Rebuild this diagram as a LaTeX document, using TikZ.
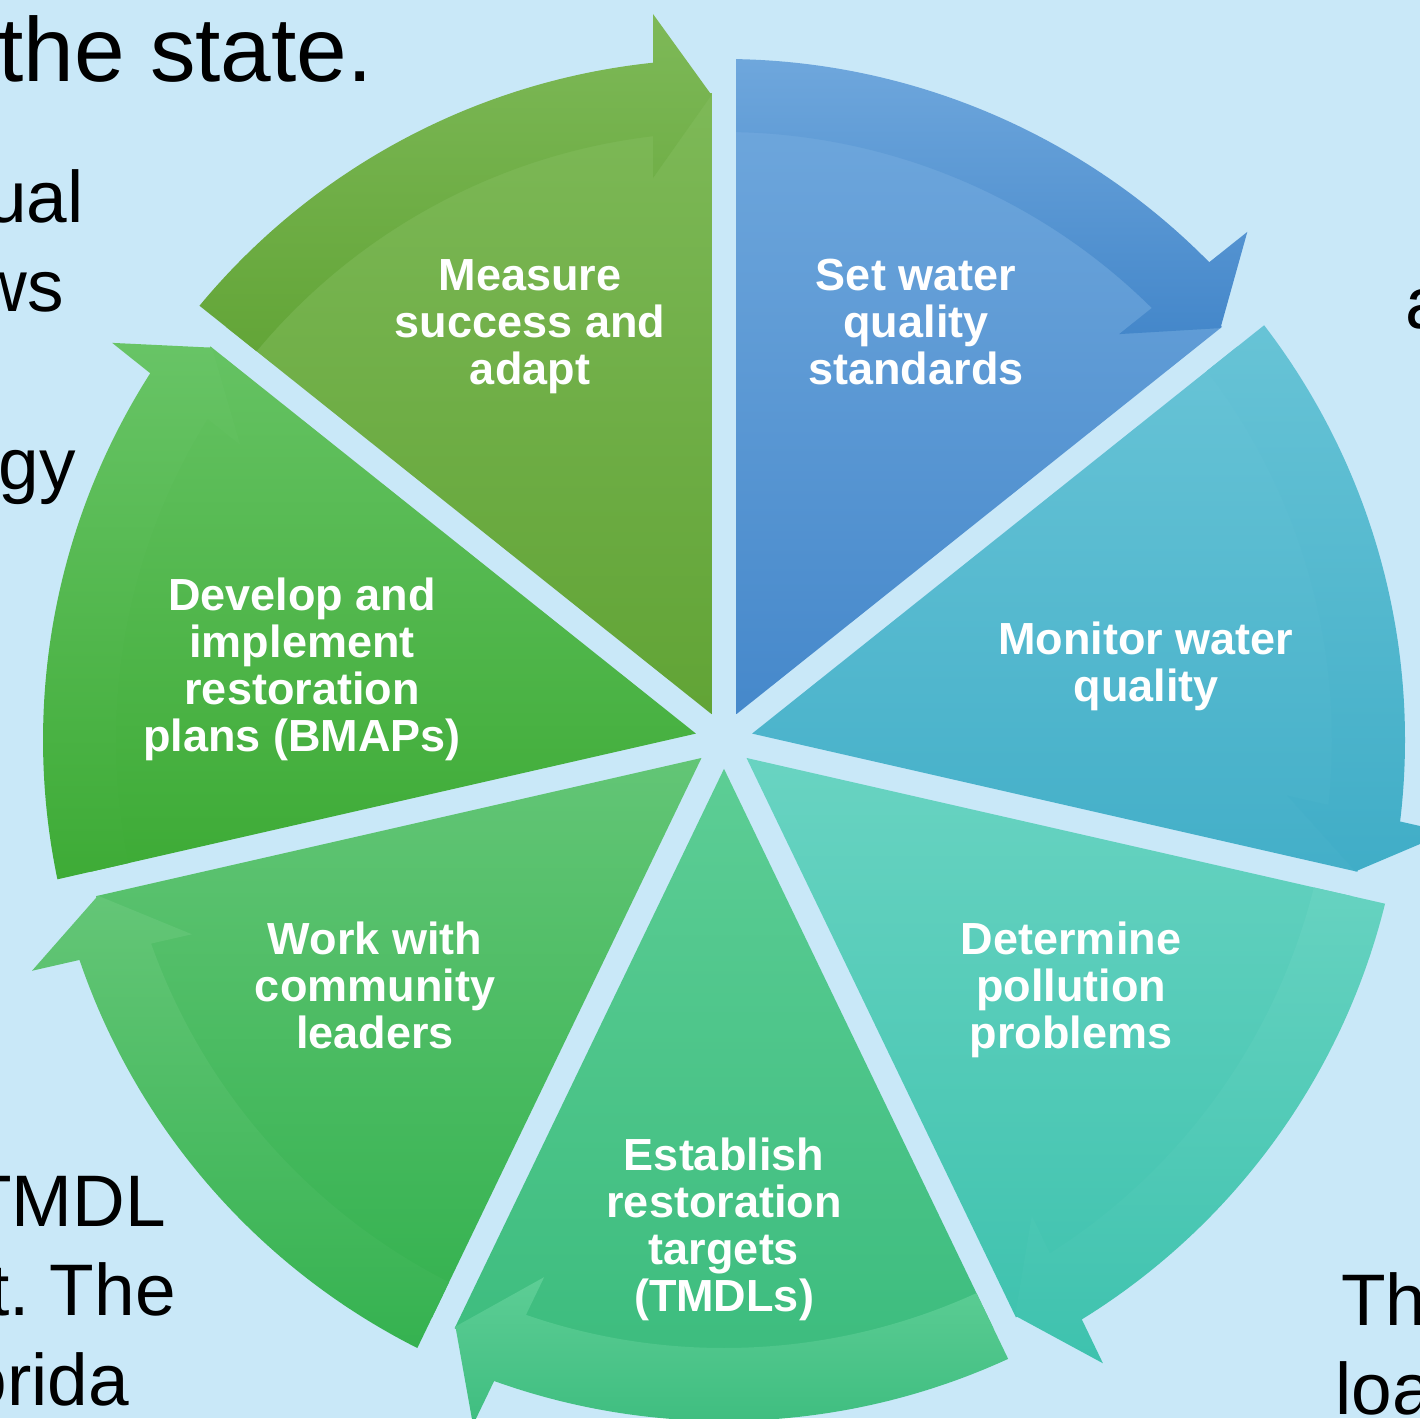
\documentclass[tikz,border=0pt]{standalone}
\usepackage{fontspec}
\setmainfont{Liberation Sans}
\usetikzlibrary{calc}
\frenchspacing
\definecolor{bgblue}{HTML}{C9E8F8}
\definecolor{ct1}{HTML}{7EB958}\definecolor{cb1}{HTML}{60A334}
\definecolor{ct2}{HTML}{70A8DD}\definecolor{cb2}{HTML}{4487CA}
\definecolor{ct3}{HTML}{6AC5D7}\definecolor{cb3}{HTML}{40ADC7}
\definecolor{ct4}{HTML}{6AD4C2}\definecolor{cb4}{HTML}{3EC2AE}
\definecolor{ct5}{HTML}{5ECE96}\definecolor{cb5}{HTML}{3ABB7C}
\definecolor{ct6}{HTML}{64C677}\definecolor{cb6}{HTML}{33B14E}
\definecolor{ct7}{HTML}{68C466}\definecolor{cb7}{HTML}{3AA932}
\begin{document}
\begin{tikzpicture}[x=1pt,y=-1pt,
  lbl/.style={text=white,font=\fontsize{45pt}{47pt}\selectfont\bfseries,align=center,inner sep=0pt,anchor=north},
  bodytxt/.style={text=black,font=\fontsize{73pt}{89.5pt}\selectfont\frenchspacing,inner sep=0pt}]
\useasboundingbox (0,0) rectangle (1420,1418);
\fill[bgblue] (0,0) rectangle (1420,1418);
% background text fragments
\node[bodytxt,font=\fontsize{91pt}{105pt}\selectfont,anchor=base east] (title) at (373,82) {the state.};
\node[bodytxt,anchor=base east] (ual) at (84,222) {ual};
\node[bodytxt,anchor=base east] (ws) at (64,311) {ws};
\node[bodytxt,anchor=base east] (gy) at (76,489) {gy};
\node[bodytxt,anchor=base east] (tmdl) at (166,1226) {TMDL};
\node[bodytxt,anchor=base east] (tthe) at (176,1315) {t.\ The};
\node[bodytxt,anchor=base east] (rida) at (129,1405) {orida};
\node[bodytxt,anchor=base west] (ra) at (1405,328) {a};
\node[bodytxt,anchor=base west] (rth) at (1341,1325) {Th};
\node[bodytxt,anchor=base west] (rloa) at (1335,1414) {loa};
% cycle segments
\begin{scope}[shift={(724pt,-740pt)}]
\foreach \k in {1,...,7}{
  \pgfmathsetmacro{\aS}{141.4286-(\k-1)*51.4286}
  \pgfmathsetmacro{\aE}{\aS-51.4286}
  \pgfmathsetmacro{\aM}{\aS-25.7143}
  \begin{scope}
    \clip (\aM:28.81pt) -- +(\aS:1300pt) -- +(\aE:1300pt) -- cycle;
    \shade[top color=ct\k,bottom color=cb\k] (0pt,0pt) -- (\aS+3:647pt)
      arc[start angle=\aS+3,end angle=\aE-3,radius=647pt] -- cycle;
    \shade[top color=ct\k,bottom color=cb\k] (\aS+3:681pt)
      arc[start angle=\aS+3,end angle=\aE+5.985,radius=681pt]
      -- ($(\aE:726pt)+(\aE+90:71pt)$)
      -- ($(\aE:645pt)+(\aE+90:12.5pt)$)
      -- ($(\aE:562pt)+(\aE+90:71pt)$)
      -- (\aE+6.706:608pt)
      arc[start angle=\aE+6.706,end angle=\aS+3,radius=608pt] -- cycle;
  \end{scope}
}
\end{scope}
% labels
\node[lbl] (measure) at (530,259) {Measure\\success and\\adapt};
\node[lbl] (setwater) at (916,259) {Set water\\quality\\standards};
\node[lbl] (monitor) at (1146,622) {Monitor water\\quality};
\node[lbl] (determine) at (1071,922) {Determine\\pollution\\problems};
\node[lbl] (establish) at (724,1138) {Establish\\restoration\\targets\\(TMDLs)};
\node[lbl] (work) at (375,922) {Work with\\community\\leaders};
\node[lbl] (develop) at (302,578) {Develop and\\implement\\restoration\\plans (BMAPs)};
\end{tikzpicture}
\end{document}
